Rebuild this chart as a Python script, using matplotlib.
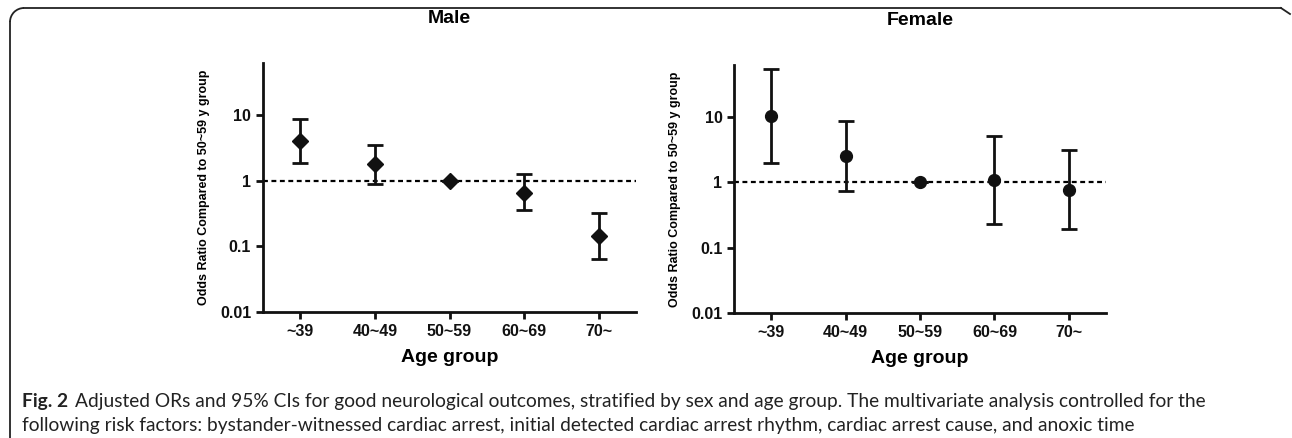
import matplotlib
matplotlib.use('Agg')
import matplotlib.pyplot as plt
from matplotlib.lines import Line2D
from matplotlib.patches import Arc

age_groups = ['~39', '40~49', '50~59', '60~69', '70~']

male_or = [4.0, 1.77, 1.0, 0.66, 0.145]
male_lo = [1.86, 0.89, 1.0, 0.356, 0.065]
male_hi = [8.75, 3.55, 1.0, 1.25, 0.32]

female_or = [10.2, 2.55, 1.0, 1.07, 0.77]
female_lo = [1.97, 0.75, 1.0, 0.23, 0.197]
female_hi = [53.7, 8.8, 1.0, 5.07, 3.15]

y_ticks = [0.01, 0.1, 1, 10]
y_tick_labels = ['0.01', '0.1', '1', '10']

plt.rcParams['font.family'] = ['Liberation Sans', 'DejaVu Sans']

fig = plt.figure(figsize=(12.92, 4.38), dpi=100)


def draw_panel(rect, title, vals, lo, hi, marker, ms):
    ax = fig.add_axes(rect)
    x = list(range(len(age_groups)))
    yerr = [[v - l for v, l in zip(vals, lo)], [h - v for v, h in zip(vals, hi)]]
    ax.axhline(1, color='black', linestyle=(0, (2.2, 1.6)), lw=1.6, zorder=1)
    ax.errorbar(x, vals, yerr=yerr, fmt=marker, color='#111111', ms=ms,
                elinewidth=2, capsize=6, capthick=2, zorder=3)
    ax.set_yscale('log')
    ax.set_ylim(0.01, 62)
    ax.set_xlim(-0.5, 4.5)
    ax.set_yticks(y_ticks)
    ax.set_yticklabels(y_tick_labels)
    ax.minorticks_off()
    ax.set_xticks(x)
    ax.set_xticklabels(age_groups)
    for s in ['top', 'right']:
        ax.spines[s].set_visible(False)
    for s in ['left', 'bottom']:
        ax.spines[s].set_linewidth(2)
        ax.spines[s].set_color('#111111')
    ax.tick_params(width=2, length=5, colors='#111111', labelsize=11.5)
    for lab in ax.get_xticklabels() + ax.get_yticklabels():
        lab.set_fontweight('bold')
    ax.set_title(title, fontsize=14, fontweight='bold', pad=29)
    ax.set_xlabel('Age group', fontsize=14, fontweight='bold', labelpad=7)
    ax.set_ylabel('Odds Ratio Compared to 50~59 y group', fontsize=9,
                  fontweight='bold', labelpad=7)
    return ax


draw_panel([0.2036, 0.2877, 0.2887, 0.5685], 'Male', male_or, male_lo, male_hi, 'D', 8.5)
draw_panel([0.5683, 0.2847, 0.2877, 0.5669], 'Female', female_or, female_lo, female_hi, 'o', 8.5)

# outer frame (left + top with rounded corner)
fc = '#222222'
fig.add_artist(Line2D([10 / 1292, 10 / 1292], [0, 1 - 22 / 438], transform=fig.transFigure, color=fc, lw=1.3))
fig.add_artist(Line2D([24 / 1292, 1281 / 1292], [1 - 8 / 438, 1 - 8 / 438], transform=fig.transFigure,
                      color=fc, lw=1.3))
fig.add_artist(Arc((24 / 1292, 1 - 22 / 438), 28 / 1292, 28 / 438, theta1=90, theta2=180,
                   transform=fig.transFigure, color=fc, lw=1.3))
fig.add_artist(Line2D([1281 / 1292, 1290 / 1292], [1 - 8 / 438, 1 - 14 / 438], transform=fig.transFigure,
                      color=fc, lw=1.3))

cap_font = ['Lato', 'DejaVu Sans']
fig.text(22 / 1292, 1 - 402 / 438, 'Fig. 2', fontsize=13.8, fontweight='bold', family=cap_font,
         color=fc, va='center')
fig.text(75 / 1292, 1 - 402 / 438,
         'Adjusted ORs and 95% CIs for good neurological outcomes, stratified by sex and age group. '
         'The multivariate analysis controlled for the',
         fontsize=13.8, family=cap_font, color=fc, va='center')
fig.text(22 / 1292, 1 - 425 / 438,
         'following risk factors: bystander-witnessed cardiac arrest, initial detected cardiac arrest rhythm, '
         'cardiac arrest cause, and anoxic time',
         fontsize=13.8, family=cap_font, color=fc, va='center')

fig.savefig('out.png', dpi=100)
